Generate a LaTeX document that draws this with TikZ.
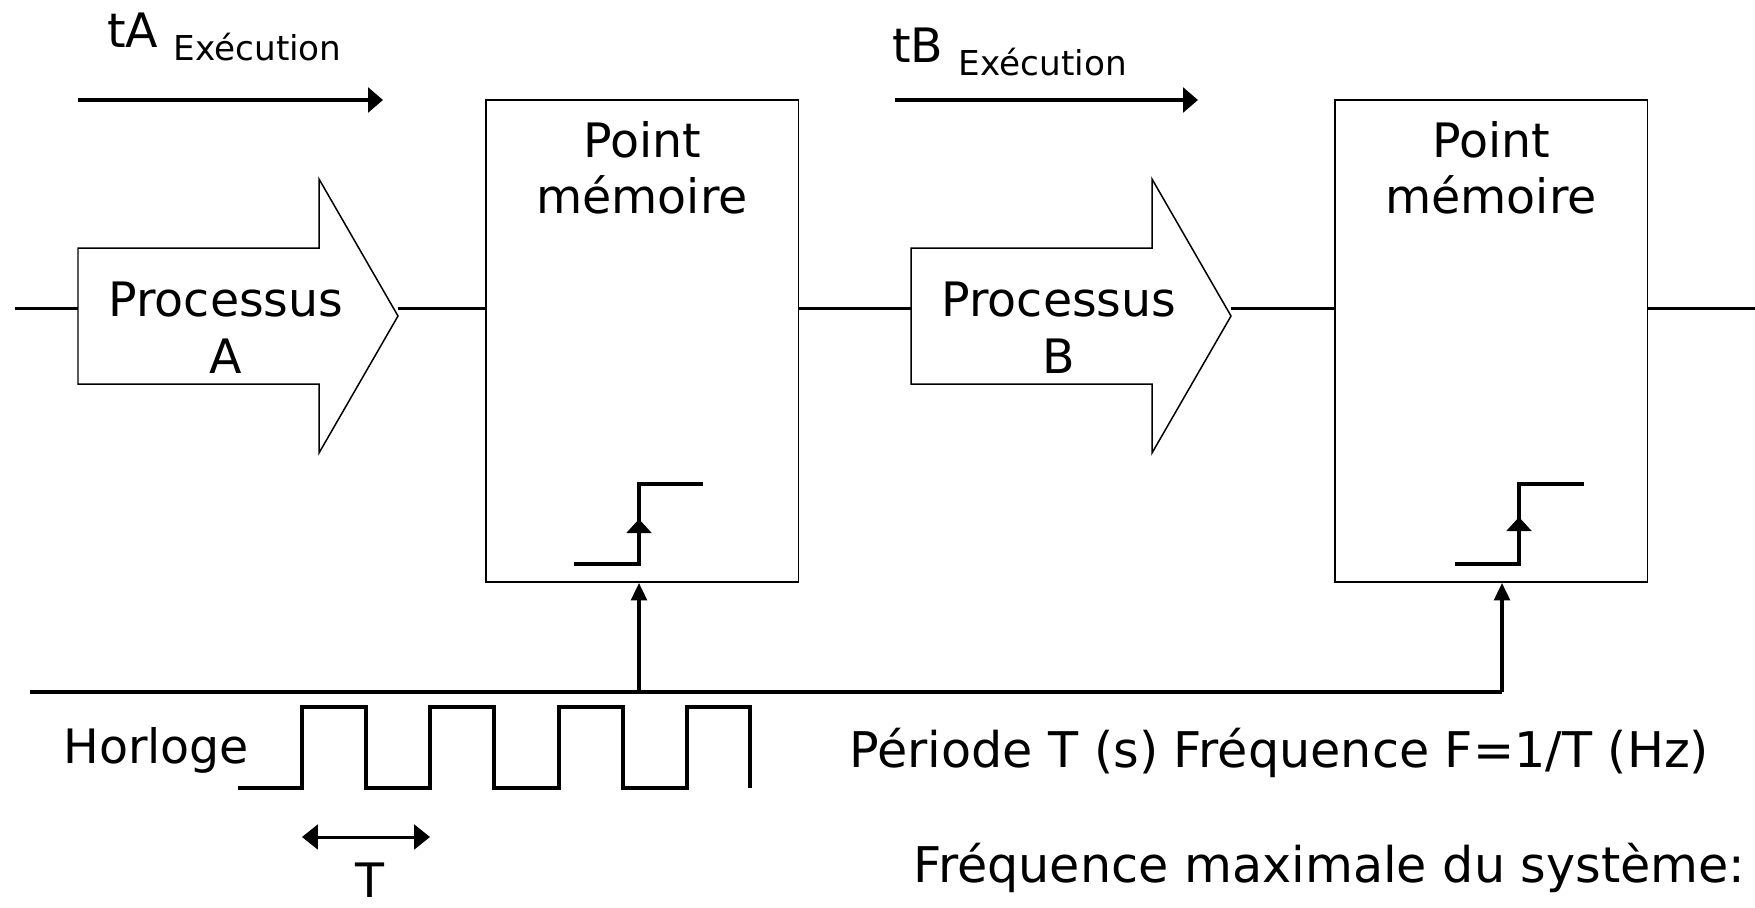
\documentclass[tikz,border=0pt]{standalone}
\usepackage{fontspec}
\setmainfont{DejaVu Sans}
\usepackage{tikz}
\usetikzlibrary{arrows.meta, positioning, calc}
\newcommand{\bigtxt}{\fontsize{27pt}{32pt}\selectfont}
\newcommand{\widetxt}{\fontsize{28pt}{33pt}\selectfont}
\newcommand{\subtxt}{\fontsize{19.5pt}{23pt}\selectfont}

\begin{document}
\begin{tikzpicture}[
    x=0.02cm, y=-0.02cm,
    txt/.style={inner sep=0pt, font=\bigtxt},
    membox/.style={rectangle, draw, line width=1.1pt, minimum width=6.26cm, minimum height=9.64cm, inner sep=0pt},
    memlabel/.style={anchor=north, align=center, inner sep=0pt, font=\bigtxt, yshift=-12.5pt},
    proctext/.style={anchor=north, align=center, inner sep=0pt, font=\bigtxt},
    procshape/.style={draw, line width=0.85pt, line join=miter},
    sig/.style={line width=1.7pt},
    bus/.style={line width=2.4pt},
    clock/.style={line width=1.9pt, line join=miter},
    steparrow/.style={line width=2.3pt, line join=miter},
    timearrow/.style={-{Triangle[length=8.5pt, width=14pt]}, line width=2.3pt},
    clkarrow/.style={-{Triangle[length=10pt, width=9pt]}, line width=2pt},
    period/.style={{Triangle[length=9pt, width=14pt]}-{Triangle[length=9pt, width=14pt]}, line width=1.7pt}
]
\useasboundingbox (0,0) rectangle (1755,907);

% temps d'execution
\node[txt, anchor=base west] (tA) at (107,47) {tA \raisebox{-7.4pt}{\subtxt Exécution}};
\node[txt, anchor=base west] (tB) at (892,62) {tB \raisebox{-7.4pt}{\subtxt Exécution}};
\coordinate (tAs) at (78,100);  \coordinate (tAe) at (383,100);
\coordinate (tBs) at (895,100); \coordinate (tBe) at (1198,100);
\draw[timearrow] (tAs) -- (tAe);
\draw[timearrow] (tBs) -- (tBe);

% points memoire
\node[membox, label={[memlabel]north:Point\\mémoire}] (mem1) at (642,341) {};
\node[membox, label={[memlabel]north:Point\\mémoire}] (mem2) at (1491,341) {};

% processus
\draw[procshape] (78,248) -- (319,248) -- (319,179) -- (398,316) -- (319,453) -- (319,384) -- (78,384) -- cycle;
\draw[procshape] (911,248) -- (1152,248) -- (1152,179) -- (1231,316) -- (1152,453) -- (1152,384) -- (911,384) -- cycle;
\coordinate (pAtail) at (78,316);  \coordinate (pAtip) at (398,316);
\coordinate (pBtail) at (911,316); \coordinate (pBtip) at (1231,316);
\node[proctext] (pA) at (226,282) {Processus\\A};
\node[proctext] (pB) at (1059,282) {Processus\\B};

% chemin des donnees
\coordinate (in) at (15,308);
\coordinate (out) at (1760,308);
\draw[sig] (in) -- (in -| pAtail);
\draw[sig] (in -| pAtip) -- (in -| mem1.west);
\draw[sig] (in -| mem1.east) -- (in -| pBtail);
\draw[sig] (in -| pBtip) -- (in -| mem2.west);
\draw[sig] (in -| mem2.east) -- (out);

% fronts montants
\draw[steparrow] (574,564) -- (639,564) -- (639,484) -- (703,484);
\draw[steparrow, -{Triangle[length=8pt, width=14pt]}] (639,564) -- (639,519);
\draw[steparrow] (1455,564) -- (1519,564) -- (1519,484) -- (1584,484);
\draw[steparrow, -{Triangle[length=8pt, width=14pt]}] (1519,564) -- (1519,517);

% horloge
\coordinate (busL) at (30,692);
\coordinate (clk1) at (639,692);
\coordinate (clk2) at (1502,692);
\draw[bus] (busL) -- (clk2);
\draw[clkarrow] (clk1) -- (clk1 |- mem1.south);
\draw[clkarrow] (clk2) -- (clk2 |- mem2.south);
\draw[clock] (238,788) -- (302,788) -- (302,707) -- (366,707) -- (366,788) -- (430,788)
    -- (430,707) -- (494,707) -- (494,788) -- (559,788) -- (559,707) -- (623,707)
    -- (623,788) -- (687,788) -- (687,707) -- (750,707) -- (750,788);
\node[txt, anchor=base west] (horloge) at (63,763) {Horloge};
\coordinate (Ts) at (302,837); \coordinate (Te) at (430,837);
\draw[period] (Ts) -- (Te);
\node[txt, anchor=base] (Tlbl) at (370,897) {T};

\node[txt, font=\widetxt, anchor=base west] (freq) at (849,767) {Période T (s) Fréquence F=1/T (Hz)};
\node[txt, font=\widetxt, anchor=base west] (fmax) at (913,882) {Fréquence maximale du système:};
\end{tikzpicture}
\end{document}
